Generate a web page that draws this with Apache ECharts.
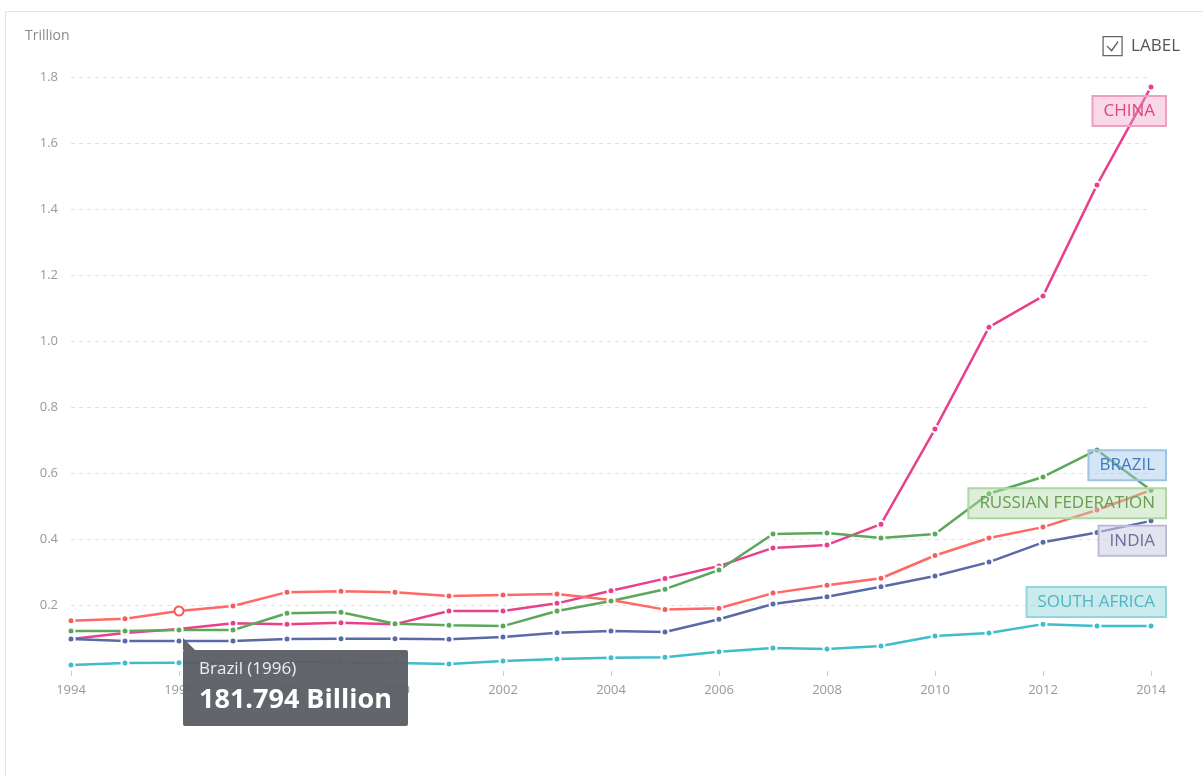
<!DOCTYPE html>
<html>
<head>
<meta charset="utf-8">
<script src="https://cdn.jsdelivr.net/npm/echarts@6/dist/echarts.min.js"></script>
<style>
html,body{margin:0;padding:0;background:#fff;}
.frame{position:absolute;left:5px;top:11px;right:-2px;bottom:-2px;border:1px solid #dfe5ea;}
#chart{position:absolute;left:0;top:0;width:1203px;height:776px;}
</style>
</head>
<body>
<div class="frame"></div>
<div id="chart"></div>
<script>
// 数据 (Trillion)
const years = ['1994','1995','1996','1997','1998','1999','2000','2001','2002','2003','2004','2005','2006','2007','2008','2009','2010','2011','2012','2013','2014'];
const brazil = [0.152,0.158,0.181794,0.197,0.239,0.242,0.239,0.227,0.230,0.233,0.215,0.186,0.190,0.236,0.260,0.281,0.350,0.403,0.436,0.488,0.548];
const china = [0.097,0.115,0.127,0.145,0.142,0.146,0.142,0.182,0.182,0.205,0.243,0.280,0.318,0.373,0.382,0.445,0.733,1.042,1.136,1.473,1.770];
const russia = [0.121,0.121,0.124,0.124,0.175,0.178,0.143,0.139,0.136,0.182,0.212,0.248,0.306,0.415,0.418,0.403,0.415,0.537,0.588,0.670,0.548];
const india = [0.097,0.091,0.091,0.091,0.097,0.098,0.098,0.096,0.103,0.116,0.121,0.118,0.157,0.203,0.225,0.255,0.288,0.330,0.390,0.420,0.455];
const southAfrica = [0.018,0.024,0.025,0.026,0.027,0.026,0.024,0.021,0.030,0.036,0.040,0.042,0.058,0.070,0.067,0.076,0.106,0.115,0.142,0.136,0.136];

const font = "'Open Sans', sans-serif";

// 每条线: 名称, 线色, 末端标签样式
const lines = [
    {name:'Brazil', data:brazil, color:'#f25f5c', label:'BRAZIL', text:'#3f7cbf', bg:'rgba(160,200,232,0.45)', border:'#9cc3e6', offset:[15,-25]},
    {name:'China', data:china, color:'#e8418c', label:'CHINA', text:'#e0457f', bg:'rgba(240,160,195,0.40)', border:'#eea0c0', offset:[15,24]},
    {name:'Russian Federation', data:russia, color:'#5ba85a', label:'RUSSIAN FEDERATION', text:'#6a9c52', bg:'rgba(180,220,170,0.45)', border:'#acd6a0', offset:[15,13]},
    {name:'India', data:india, color:'#5a6aa6', label:'INDIA', text:'#6b6f9c', bg:'rgba(205,205,228,0.55)', border:'#b5b7d2', offset:[15,20]},
    {name:'South Africa', data:southAfrica, color:'#3fbdcb', label:'SOUTH AFRICA', text:'#4fb6c2', bg:'rgba(150,215,222,0.50)', border:'#93d5dc', offset:[15,-24]}
];

const series = lines.map(l => ({
    name: l.name,
    type: 'line',
    data: l.data.map((v, i) => i === l.data.length - 1 ? {
        value: v,
        label: {
            show: true,
            position: 'inside',
            align: 'right',
            verticalAlign: 'middle',
            offset: l.offset,
            formatter: l.label,
            color: l.text,
            fontFamily: font,
            fontSize: 17,
            lineHeight: 18,
            backgroundColor: l.bg,
            borderColor: l.border,
            borderWidth: 1,
            padding: [6, 11]
        }
    } : v),
    symbol: 'circle',
    symbolSize: 7,
    lineStyle: {color: l.color, width: 2.5},
    itemStyle: {color: l.color, borderColor: '#fff', borderWidth: 2},
    emphasis: {
        scale: 1.3,
        lineStyle: {width: 2.5},
        itemStyle: {color: '#fff', borderColor: l.color, borderWidth: 2}
    },
    z: 3
}));

let option = {
    backgroundColor: 'transparent',
    animation: false,
    textStyle: {fontFamily: font},
    title: {
        text: 'Trillion',
        left: 20,
        top: 24,
        textStyle: {fontSize: 14, color: '#888', fontWeight: 'normal', fontFamily: font}
    },
    tooltip: {
        trigger: 'item',
        triggerOn: 'none',
        alwaysShowContent: true,
        backgroundColor: 'rgba(90,93,100,0.95)',
        borderWidth: 0,
        padding: 0,
        extraCssText: 'box-shadow:none;border-radius:2px;',
        position: function (point) {
            return [point[0] + 4, point[1] + 39];
        },
        formatter: function (p) {
            const billions = (p.value * 1000).toFixed(3);
            return '<div style="position:relative;padding:7px 16px 9px 16px;font-family:' + font + ';">' +
                '<div style="position:absolute;left:0;top:-12px;width:0;height:0;border-bottom:12px solid rgba(90,93,100,0.95);border-right:12px solid transparent;"></div>' +
                '<div style="color:#eee;font-size:17px;line-height:22px;">' + p.seriesName + ' (' + p.name + ')</div>' +
                '<div style="color:#fff;font-size:27px;font-weight:bold;line-height:38px;">' + billions + ' Billion</div>' +
                '</div>';
        }
    },
    grid: {
        left: 71,
        right: 52,
        top: 77,
        bottom: 105
    },
    xAxis: {
        type: 'category',
        data: years,
        boundaryGap: false,
        axisLine: {show: false},
        axisTick: {show: true, interval: 1, length: 5, lineStyle: {color: '#ccc'}},
        axisLabel: {interval: 1, margin: 13, color: '#999', fontSize: 13, fontFamily: font},
        splitLine: {show: false}
    },
    yAxis: {
        type: 'value',
        min: 0,
        max: 1.8,
        interval: 0.2,
        axisLine: {show: false},
        axisTick: {show: false},
        axisLabel: {
            margin: 13,
            color: '#999',
            fontSize: 13,
            fontFamily: font,
            formatter: v => v === 0 ? '' : v.toFixed(1)
        },
        splitLine: {
            showMinLine: false,
            lineStyle: {color: '#e2e2e2', type: [4, 4]}
        }
    },
    graphic: [{
        type: 'group',
        right: 23,
        top: 36,
        children: [
            {type: 'rect', shape: {x: 0, y: 0, width: 19, height: 19}, style: {fill: '#fff', stroke: '#666', lineWidth: 1.3}},
            {type: 'polyline', shape: {points: [[4, 9.5], [8.5, 14], [15, 5]]}, style: {stroke: '#555', lineWidth: 1.3, fill: null}},
            {type: 'text', x: 28, y: 10, style: {text: 'LABEL', fill: '#555', fontSize: 17, fontFamily: font, verticalAlign: 'middle'}}
        ]
    }],
    series: series
};

let chart = echarts.init(document.getElementById('chart'));
chart.setOption(option);
chart.dispatchAction({type: 'highlight', seriesIndex: 0, dataIndex: 2});
chart.dispatchAction({type: 'showTip', seriesIndex: 0, dataIndex: 2});
window.addEventListener('resize', () => {
    chart.resize();
});
</script>
</body>
</html>
